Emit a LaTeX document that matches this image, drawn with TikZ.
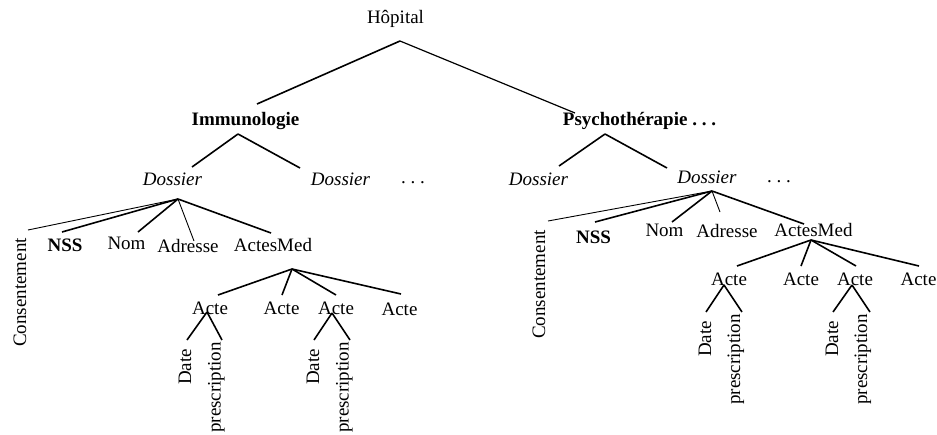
\documentclass[tikz,border=0pt]{standalone}
\usepackage{fontspec}
\setmainfont{Liberation Serif}
\newcommand\spacedots{.\kern.25em.\kern.25em.}
\begin{document}
\begin{tikzpicture}[x=1pt,y=-1pt,
  lbl/.style={inner sep=0pt, anchor=base, font=\fontsize{19}{22}\selectfont},
  vlbl/.style={lbl, rotate=90, anchor=base west},
  branch/.style={line width=1.6pt},
  twig/.style={line width=0.9pt}]
\useasboundingbox (0,0) rectangle (937,434);

% --- root and services ---
\node[lbl] (hop) at (395.5,23) {Hôpital};
\coordinate (hop-j) at (400,41);

\node[lbl] (imm) at (245.5,125) {\textbf{Immunologie}};
\coordinate (imm-in) at (257,104);
\coordinate (imm-j) at (238,134);

\node[lbl] (psy) at (639.5,125) {\textbf{Psychothérapie \spacedots}};
\coordinate (psy-in) at (575,113);
\coordinate (psy-j) at (605,134);

\draw[branch] (hop-j) -- (imm-in);
\draw[line width=1.2pt] (hop-j) -- (psy-in);

% --- dossiers ---
\node[lbl] (d1) at (172.5,185) {\itshape Dossier};
\coordinate (d1-in) at (192,167);
\coordinate (d1-j) at (178,199);
\node[lbl] (d2) at (340.5,185) {\itshape Dossier};
\coordinate (d2-in) at (300,168);
\node[lbl] (dots1) at (413,183) {\spacedots};

\node[lbl] (d3) at (538.5,185) {\itshape Dossier};
\coordinate (d3-in) at (559,166);
\node[lbl] (d4) at (707,183) {\itshape Dossier};
\coordinate (d4-in) at (667,168);
\coordinate (d4-j) at (712,191);
\node[lbl] (dots2) at (779,182) {\spacedots};

\draw[branch] (imm-j) -- (d1-in);
\draw[branch] (imm-j) -- (d2-in);
\draw[branch] (psy-j) -- (d3-in);
\draw[branch] (psy-j) -- (d4-in);

% --- fields of the first dossier ---
\node[vlbl] (cons1) at (26,347) {Consentement};
\coordinate (cons1-in) at (28,230);
\node[lbl] (nss1) at (65,251.5) {\textbf{NSS}};
\coordinate (nss1-in) at (62,232);
\node[lbl] (nom1) at (126.5,249) {Nom};
\coordinate (nom1-in) at (138,232);
\node[lbl] (adr1) at (188,252) {Adresse};
\coordinate (adr1-in) at (194,241);
\node[lbl] (am1) at (273,251) {ActesMed};
\coordinate (am1-in) at (271,233);
\coordinate (am1-j) at (292,269);

\draw[twig] (d1-j) -- (cons1-in);
\draw[branch] (d1-j) -- (nss1-in);
\draw[branch] (d1-j) -- (nom1-in);
\draw[twig] (d1-j) -- (adr1-in);
\draw[branch] (d1-j) -- (am1-in);

% --- acts of the first dossier ---
\node[lbl] (a11) at (210,314) {Acte};
\coordinate (a11-in) at (218,295);
\coordinate (a11-j) at (207,312);
\node[lbl] (a12) at (281.5,314) {Acte};
\coordinate (a12-in) at (282,295);
\node[lbl] (a13) at (336,314) {Acte};
\coordinate (a13-in) at (336,295);
\coordinate (a13-j) at (332,313);
\node[lbl] (a14) at (399.5,315) {Acte};
\coordinate (a14-in) at (401,294);

\draw[branch] (am1-j) -- (a11-in);
\draw[branch] (am1-j) -- (a12-in);
\draw[branch] (am1-j) -- (a13-in);
\draw[branch] (am1-j) -- (a14-in);

\node[vlbl] (dt11) at (191,385) {Date};
\coordinate (dt11-in) at (187,340);
\node[vlbl] (pr11) at (220.5,433) {prescription};
\coordinate (pr11-in) at (222,340);
\node[vlbl] (dt13) at (319,385) {Date};
\coordinate (dt13-in) at (314,340);
\node[vlbl] (pr13) at (348.5,433) {prescription};
\coordinate (pr13-in) at (350,340);

\draw[branch] (a11-j) -- (dt11-in);
\draw[branch] (a11-j) -- (pr11-in);
\draw[branch] (a13-j) -- (dt13-in);
\draw[branch] (a13-j) -- (pr13-in);

% --- fields of the fourth dossier ---
\node[vlbl] (cons4) at (545,339) {Consentement};
\coordinate (cons4-in) at (548,221);
\node[lbl] (nss4) at (593.5,243) {\textbf{NSS}};
\coordinate (nss4-in) at (595,222);
\node[lbl] (nom4) at (664.5,236.5) {Nom};
\coordinate (nom4-in) at (672,222);
\node[lbl] (adr4) at (727,237) {Adresse};
\coordinate (adr4-in) at (720,212);
\node[lbl] (am4) at (813.5,236) {ActesMed};
\coordinate (am4-in) at (804,224);
\coordinate (am4-j) at (811,240);

\draw[twig] (d4-j) -- (cons4-in);
\draw[branch] (d4-j) -- (nss4-in);
\draw[branch] (d4-j) -- (nom4-in);
\draw[twig] (d4-j) -- (adr4-in);
\draw[branch] (d4-j) -- (am4-in);

% --- acts of the fourth dossier ---
\node[lbl] (a41) at (729,285) {Acte};
\coordinate (a41-in) at (737,266);
\coordinate (a41-j) at (724,285);
\node[lbl] (a42) at (801,285) {Acte};
\coordinate (a42-in) at (801,266);
\node[lbl] (a43) at (855,285) {Acte};
\coordinate (a43-in) at (856,266);
\coordinate (a43-j) at (852,285);
\node[lbl] (a44) at (918.5,285) {Acte};
\coordinate (a44-in) at (919,266);

\draw[branch] (am4-j) -- (a41-in);
\draw[branch] (am4-j) -- (a42-in);
\draw[branch] (am4-j) -- (a43-in);
\draw[branch] (am4-j) -- (a44-in);

\node[vlbl] (dt41) at (711,357) {Date};
\coordinate (dt41-in) at (706,312);
\node[vlbl] (pr41) at (740,405) {prescription};
\coordinate (pr41-in) at (742,312);
\node[vlbl] (dt43) at (838,357) {Date};
\coordinate (dt43-in) at (833,312);
\node[vlbl] (pr43) at (867,405) {prescription};
\coordinate (pr43-in) at (870,312);

\draw[branch] (a41-j) -- (dt41-in);
\draw[branch] (a41-j) -- (pr41-in);
\draw[branch] (a43-j) -- (dt43-in);
\draw[branch] (a43-j) -- (pr43-in);
\end{tikzpicture}
\end{document}
